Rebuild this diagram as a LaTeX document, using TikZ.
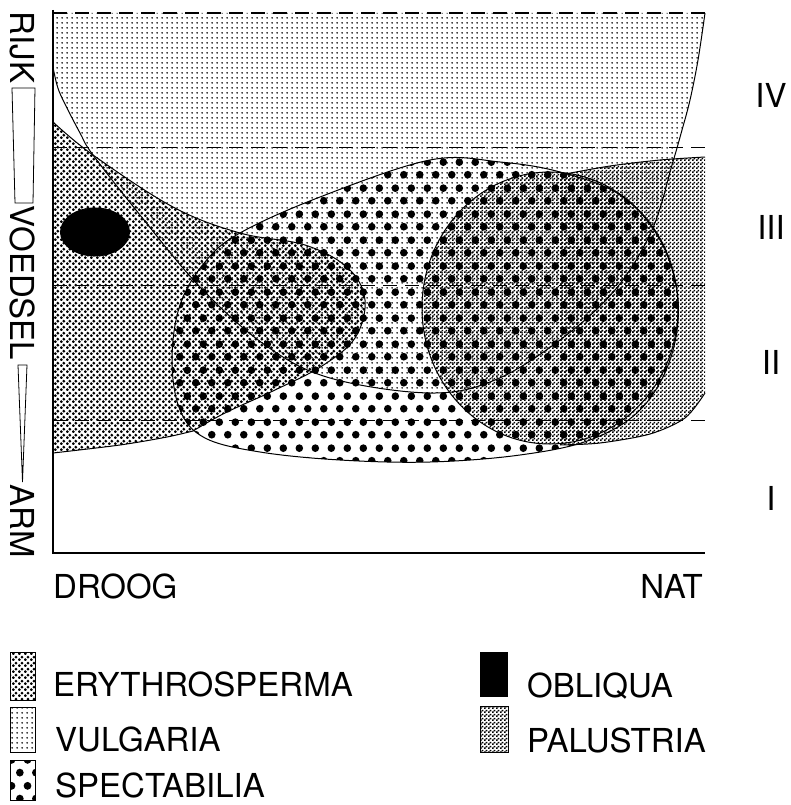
\documentclass[tikz,border=0pt]{standalone}
\usepackage{fontspec}
\setmainfont{TeX Gyre Heros}
\usetikzlibrary{patterns}
\pgfdeclarepatternformonly{vulgp}{\pgfqpoint{0pt}{0pt}}{\pgfqpoint{5pt}{5pt}}{\pgfqpoint{5pt}{5pt}}{\pgfpathcircle{\pgfqpoint{2.5pt}{2.5pt}}{1.05pt}\pgfusepath{fill}}
\pgfdeclarepatternformonly{eryp}{\pgfqpoint{0pt}{0pt}}{\pgfqpoint{6pt}{6pt}}{\pgfqpoint{6pt}{6pt}}{\pgfpathcircle{\pgfqpoint{1.5pt}{1.5pt}}{1.75pt}\pgfpathcircle{\pgfqpoint{4.5pt}{4.5pt}}{1.75pt}\pgfusepath{fill}}
\pgfdeclarepatternformonly{spectp}{\pgfqpoint{0pt}{0pt}}{\pgfqpoint{16pt}{26pt}}{\pgfqpoint{16pt}{26pt}}{\pgfpathcircle{\pgfqpoint{4pt}{6.5pt}}{4pt}\pgfpathcircle{\pgfqpoint{12pt}{19.5pt}}{4pt}\pgfusepath{fill}}
\pgfdeclarepatternformonly{palup}{\pgfqpoint{0pt}{0pt}}{\pgfqpoint{4pt}{4pt}}{\pgfqpoint{4pt}{4pt}}{\pgfpathrectangle{\pgfqpoint{0.1pt}{0.1pt}}{\pgfqpoint{1.85pt}{1.85pt}}\pgfpathrectangle{\pgfqpoint{2.1pt}{2.1pt}}{\pgfqpoint{1.85pt}{1.85pt}}\pgfusepath{fill}}
\begin{document}
\begin{tikzpicture}[x=1pt,y=-1pt,
  outl/.style={line width=1pt},
  zone/.style={line width=1pt, dash pattern=on 14pt off 8pt},
  lbl/.style={font=\fontsize{33}{40}\selectfont, inner sep=0pt, text depth=0pt},
  swatch/.style={line width=0.8pt}]
\useasboundingbox (0,0) rectangle (791,805);
\fill[white] (0,0) rectangle (791,805);

% Vulgaria (bowl)
\path[pattern=vulgp] (53,13) -- plot[smooth,tension=0.6] coordinates {(53,67) (57,85) (63,100) (80,133) (93,155) (140,215) (200,287) (265,345) (330,378) (430,393) (495,380) (560,340) (615,290) (652,230) (672,165) (682,130) (690,100) (698,60) (705,13)} -- cycle;

% Erythrosperma
\path[pattern=eryp] (53,122) -- plot[smooth,tension=0.6] coordinates {(53,122) (93,155) (173,207) (240,233) (305,245) (348,268) (365,300) (355,338) (322,366) (275,390) (225,413) (193,431)} -- plot[smooth] coordinates {(193,431) (167,437) (120,445) (53,453)} -- cycle;

% Spectabilia
\path[pattern=spectp] plot[smooth cycle,tension=0.6] coordinates {(240,233) (320,197) (430,160) (500,162) (560,172) (620,195) (660,240) (678,300) (670,360) (640,410) (590,440) (520,455) (430,462) (340,460) (260,452) (205,438) (180,410) (172,360) (180,305) (205,262)};

% Palustria
\path[pattern=palup] (550,308) ellipse [x radius=128pt, y radius=136pt];
\path[pattern=palup] (560,175) -- plot[smooth] coordinates {(560,175) (610,166) (660,160) (705,157)} -- (705,393) -- plot[smooth] coordinates {(705,393) (685,418) (650,434) (600,443) (560,445)} -- cycle;

% outlines
\draw[outl] plot[smooth,tension=0.6] coordinates {(53,67) (57,85) (63,100) (80,133) (93,155) (140,215) (200,287) (265,345) (330,378) (430,393) (495,380) (560,340) (615,290) (652,230) (672,165) (682,130) (690,100) (698,60) (705,13)};
\draw[outl] plot[smooth,tension=0.6] coordinates {(53,122) (93,155) (173,207) (240,233) (305,245) (348,268) (365,300) (355,338) (322,366) (275,390) (225,413) (193,431)};
\draw[outl] plot[smooth] coordinates {(193,431) (167,437) (120,445) (53,453)};
\draw[outl] plot[smooth cycle,tension=0.6] coordinates {(240,233) (320,197) (430,160) (500,162) (560,172) (620,195) (660,240) (678,300) (670,360) (640,410) (590,440) (520,455) (430,462) (340,460) (260,452) (205,438) (180,410) (172,360) (180,305) (205,262)};
\draw[outl] (550,308) ellipse [x radius=128pt, y radius=136pt];
\draw[outl] plot[smooth] coordinates {(560,175) (610,166) (660,160) (705,157)};
\draw[outl] plot[smooth] coordinates {(705,393) (685,418) (650,434) (600,443) (560,445)};

% zone lines
\draw[zone, line width=1.4pt] (53,13) -- (705,13);
\draw[zone] (53,148) -- (705,148);
\draw[zone] (53,285) -- (705,285);
\draw[zone] (53,420) -- (705,420);

% Obliqua
\fill[black] (95,232) ellipse [x radius=35pt, y radius=24.5pt];

% axes
\draw[line width=2.4pt] (53,10) -- (53,553) -- (705,553);

% left axis label
\draw[swatch] (12,88) -- (35,88) -- (33,203) -- (15,203) -- cycle;
\draw[swatch] (18,365) -- (27,365) -- (22.5,482) -- cycle;
\node[lbl, rotate=-90] (rijk) at (22.5,47.5) {RIJK};
\node[lbl, rotate=-90] (voed) at (22.5,283) {VOEDSEL};
\node[lbl, rotate=-90] (arm) at (22.5,521) {ARM};

% bottom labels
\node[lbl, anchor=base west] (droog) at (53,598) {DROOG};
\node[lbl, anchor=base east] (nat) at (703,598) {NAT};

% zone numerals
\node[lbl] (iv) at (771,95) {IV};
\node[lbl] (iii) at (771,227) {III};
\node[lbl] (ii) at (771,362) {II};
\node[lbl] (i) at (771,498) {I};

% legend
\path[pattern=eryp] (10,652) rectangle (35,700);
\draw[swatch] (10,652) rectangle (35,700);
\node[lbl, anchor=base west] (ery) at (53,696) {ERYTHROSPERMA};
\path[pattern=vulgp] (10,707) rectangle (35,752);
\draw[swatch] (10,707) rectangle (35,752);
\node[lbl, anchor=base west] (vulg) at (55,751) {VULGARIA};
\path[pattern=spectp] (10,760) rectangle (35,800);
\draw[swatch] (10,760) rectangle (35,800);
\node[lbl, anchor=base west] (spect) at (55,797) {SPECTABILIA};
\fill[black] (480,652) rectangle (508,697);
\node[lbl, anchor=base west] (obl) at (527,697) {OBLIQUA};
\path[pattern=palup] (480,706) rectangle (508,752);
\draw[swatch] (480,706) rectangle (508,752);
\node[lbl, anchor=base west] (palu) at (527,752) {PALUSTRIA};
\end{tikzpicture}
\end{document}
